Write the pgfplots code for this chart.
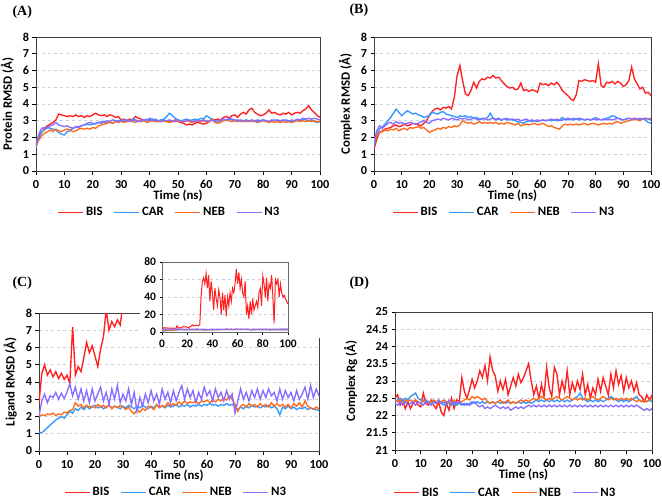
\documentclass[border=0pt]{standalone}
\usepackage{pgfplots}
\pgfplotsset{compat=1.18}
\usepackage{pgfplotstable}
\usepackage{fontspec}
\setmainfont{Carlito}
\newfontfamily\titlefont{Liberation Serif}
\definecolor{cBIS}{HTML}{FF2020}
\definecolor{cCAR}{HTML}{3399FF}
\definecolor{cNEB}{HTML}{FF6A1A}
\definecolor{cN3}{HTML}{8A6CFF}
\definecolor{gridc}{HTML}{C5D3DE}

\pgfplotstableread{
t BIS CAR NEB N3
0 1.50 1.40 1.55 1.60
1 2.05 1.95 1.85 2.20
2 2.30 2.35 2.10 2.55
3 2.55 2.45 2.25 2.60
4 2.70 2.60 2.35 2.55
5 2.80 2.55 2.45 2.70
6 2.90 2.50 2.35 2.75
7 3.05 2.45 2.50 2.90
8 3.40 2.30 2.40 2.75
9 3.35 2.20 2.35 2.70
10 3.30 2.15 2.45 2.65
11 3.25 2.35 2.50 2.70
12 3.30 2.40 2.45 2.60
13 3.25 2.55 2.35 2.55
14 3.35 2.60 2.40 2.65
15 3.25 2.65 2.50 2.60
16 3.30 2.70 2.55 2.70
17 3.20 2.75 2.50 2.75
18 3.30 2.80 2.55 2.85
19 3.25 2.75 2.50 2.90
20 3.35 2.80 2.60 2.85
21 3.45 2.85 2.55 2.80
22 3.35 2.90 2.70 2.90
23 3.30 2.85 2.75 2.95
24 3.35 2.95 2.80 2.90
25 3.25 2.90 2.85 3.00
26 3.35 2.95 2.90 2.95
27 3.30 2.85 2.85 3.05
28 3.20 2.95 2.95 3.00
29 3.25 3.00 2.90 2.95
30 3.05 3.05 2.95 3.00
31 3.10 2.95 2.90 3.05
32 3.00 3.05 2.95 3.00
33 3.10 3.00 3.00 2.95
34 3.05 3.10 2.95 3.05
35 3.25 3.05 2.90 3.00
36 3.15 3.00 3.00 2.95
37 3.10 2.95 2.95 3.05
38 3.05 3.05 3.00 3.00
39 3.00 3.00 2.90 3.10
40 3.05 3.15 2.95 3.05
41 3.10 3.05 3.00 3.00
42 3.00 3.10 2.95 3.05
43 2.95 3.00 3.00 3.00
44 3.05 3.05 2.95 2.95
45 3.00 3.10 3.00 3.05
46 2.95 3.25 2.95 3.00
47 3.00 3.45 2.90 3.05
48 2.95 3.30 2.95 3.00
49 3.05 3.15 3.00 2.95
50 2.95 3.05 2.95 3.05
51 2.90 3.00 3.00 3.00
52 2.85 3.05 2.95 2.95
53 2.75 3.10 3.00 3.00
54 2.80 3.00 2.95 3.05
55 2.75 3.05 2.90 2.95
56 2.85 3.10 2.95 3.00
57 2.90 3.05 3.00 2.95
58 2.85 3.15 2.95 3.00
59 2.80 3.10 3.00 3.05
60 2.85 3.30 2.95 3.00
61 2.95 3.20 3.00 2.95
62 3.10 3.05 3.05 3.05
63 3.05 3.00 2.90 3.00
64 3.10 2.95 2.85 2.95
65 3.05 3.00 2.90 3.05
66 3.20 3.05 3.00 3.10
67 3.25 3.00 3.05 3.05
68 3.15 3.10 3.00 3.15
69 3.30 3.05 2.95 3.10
70 3.35 3.00 3.00 3.05
71 3.20 3.05 2.95 3.00
72 3.40 2.95 3.00 3.05
73 3.50 3.00 2.95 3.00
74 3.40 3.05 3.00 2.95
75 3.65 3.00 2.95 3.00
76 3.75 2.95 3.00 3.05
77 3.50 3.00 2.95 3.00
78 3.40 3.05 2.90 2.95
79 3.30 3.00 2.95 3.00
80 3.35 3.05 3.00 3.05
81 3.45 3.00 2.95 3.00
82 3.65 2.95 2.90 2.95
83 3.45 3.00 2.95 3.05
84 3.50 3.05 2.90 3.00
85 3.40 3.00 2.95 3.05
86 3.35 2.95 2.90 3.00
87 3.45 3.00 2.95 3.05
88 3.40 3.05 2.90 3.00
89 3.50 3.00 2.95 2.95
90 3.35 2.95 2.90 3.05
91 3.45 3.00 2.95 3.00
92 3.50 3.05 3.00 3.10
93 3.45 3.00 2.95 3.05
94 3.60 3.10 3.00 3.15
95 3.70 3.05 2.95 3.10
96 3.90 3.00 3.00 3.15
97 3.65 3.05 2.95 3.10
98 3.50 2.95 3.00 3.15
99 3.30 2.90 2.95 3.10
100 3.20 2.95 2.95 3.05
}\tabA

\pgfplotstableread{
t BIS CAR NEB N3
0 1.30 1.50 1.75 1.80
1 1.90 2.20 2.10 2.40
2 2.30 2.50 2.30 2.70
3 2.40 2.65 2.35 2.55
4 2.50 2.80 2.45 2.70
5 2.55 3.00 2.40 2.85
6 2.60 3.20 2.50 2.90
7 2.70 3.45 2.45 2.80
8 2.75 3.70 2.55 2.95
9 2.65 3.50 2.40 2.85
10 2.70 3.30 2.50 2.90
11 2.80 3.45 2.55 2.80
12 2.70 3.60 2.45 2.85
13 2.75 3.50 2.60 2.90
14 2.85 3.40 2.55 2.85
15 2.80 3.45 2.60 2.80
16 2.75 3.35 2.65 2.85
17 2.70 3.30 2.55 2.95
18 2.85 3.20 2.60 3.00
19 3.00 3.25 2.45 2.90
20 3.35 3.30 2.30 2.85
21 3.55 3.50 2.40 3.00
22 3.70 3.45 2.45 3.05
23 3.75 3.40 2.55 3.10
24 3.65 3.50 2.50 3.05
25 3.80 3.55 2.60 3.15
26 3.75 3.40 2.55 3.10
27 3.85 3.35 2.65 3.05
28 3.70 3.30 2.60 3.15
29 4.40 3.25 2.70 3.10
30 5.70 3.20 2.65 3.05
31 6.30 3.30 2.75 3.15
32 5.40 3.25 3.00 3.10
33 4.60 3.30 2.90 3.15
34 4.50 3.20 2.85 3.05
35 4.80 3.25 2.90 3.10
36 5.30 3.15 2.80 3.15
37 4.95 3.20 2.85 3.10
38 5.35 3.10 2.95 3.05
39 5.50 3.15 2.85 3.10
40 5.45 3.10 2.90 3.15
41 5.60 3.20 2.85 3.05
42 5.55 3.45 2.90 3.10
43 5.70 3.15 2.85 3.15
44 5.55 3.10 2.90 3.05
45 5.60 3.15 2.80 3.10
46 5.40 3.05 2.85 3.05
47 5.20 3.10 2.80 3.10
48 5.05 3.05 2.90 3.15
49 4.95 3.10 2.85 3.05
50 5.00 3.05 2.80 3.10
51 4.85 3.00 2.75 3.05
52 4.90 2.95 2.85 3.10
53 5.25 2.90 2.70 3.00
54 4.80 2.85 2.75 3.05
55 4.85 2.95 2.80 3.10
56 4.75 3.00 2.75 3.00
57 4.85 2.95 2.80 3.05
58 4.80 3.00 2.85 3.00
59 4.70 2.95 2.75 3.05
60 5.25 3.00 2.80 3.00
61 5.15 3.05 2.85 3.05
62 5.20 3.00 2.75 3.00
63 5.10 3.05 2.65 3.05
64 5.25 3.00 2.70 3.10
65 5.15 3.05 2.60 3.05
66 5.30 3.00 2.55 3.10
67 5.10 3.05 2.50 3.00
68 4.80 3.20 2.70 3.05
69 4.65 3.05 2.80 3.10
70 4.50 3.10 2.75 3.15
71 4.30 3.05 2.80 3.10
72 4.20 3.15 2.75 3.05
73 4.55 3.10 2.80 3.10
74 5.40 3.05 2.75 3.15
75 5.35 3.10 2.80 3.10
76 5.45 3.05 2.85 3.05
77 5.40 3.10 2.75 3.10
78 5.35 3.05 2.80 3.05
79 5.40 3.10 2.85 3.10
80 5.30 3.20 2.80 3.05
81 6.40 3.10 2.75 3.10
82 5.10 3.05 2.80 3.05
83 5.00 3.10 2.85 3.10
84 5.30 3.15 2.80 3.05
85 5.25 3.20 2.85 3.10
86 5.35 3.30 2.80 3.05
87 5.20 3.25 2.90 3.10
88 5.35 3.15 2.95 3.15
89 5.25 3.10 2.85 3.10
90 5.05 3.05 2.90 3.05
91 5.15 3.10 2.95 3.10
92 5.40 3.15 3.00 3.15
93 6.20 3.10 3.05 3.10
94 5.50 3.15 3.10 3.15
95 5.20 3.10 3.05 3.10
96 4.90 3.05 3.00 3.15
97 5.00 3.10 3.10 3.10
98 4.65 3.05 3.15 3.15
99 4.70 2.90 3.10 3.10
100 4.50 2.85 3.15 3.05
}\tabB

\pgfplotstableread{
t BIS CAR NEB N3
0 2.80 1.10 2.00 2.00
1 4.50 1.05 2.10 2.90
2 5.00 1.20 2.05 3.30
3 4.40 1.35 2.15 2.80
4 4.70 1.50 2.10 3.20
5 4.30 1.65 2.20 3.10
6 4.60 1.80 2.05 3.40
7 4.20 1.90 2.15 3.00
8 4.50 2.00 2.10 3.35
9 4.15 1.90 2.25 3.05
10 4.40 2.10 2.20 3.40
11 3.90 2.30 2.35 3.90
12 7.20 2.20 2.40 3.20
13 4.40 2.45 2.80 3.70
14 4.90 2.35 2.60 3.00
15 4.60 2.55 2.70 3.60
16 5.40 2.40 2.50 2.90
17 6.30 2.60 2.65 3.50
18 5.70 2.45 2.55 2.80
19 6.10 2.55 2.60 3.60
20 5.50 2.65 2.50 2.90
21 4.90 2.50 2.70 3.30
22 5.90 2.60 2.55 3.70
23 6.60 2.45 2.65 2.90
24 8.20 2.55 2.50 3.40
25 7.00 2.65 2.70 2.70
26 7.50 2.50 2.45 3.60
27 7.20 2.60 2.60 3.00
28 7.60 2.55 2.50 3.80
29 7.30 2.45 2.65 2.80
30 8.50 2.60 2.55 3.30
31 40.0 2.50 2.40 2.90
32 58.0 2.65 2.55 3.60
33 62.0 2.55 2.30 2.70
34 55.0 2.45 2.15 3.40
35 67.0 2.60 2.40 2.30
36 50.0 2.50 2.25 3.10
37 65.0 2.65 2.45 2.60
38 35.0 2.55 2.35 3.30
39 58.0 2.45 2.60 2.80
40 45.0 2.60 2.55 3.50
41 25.0 2.50 2.40 2.90
42 50.0 2.65 2.70 3.30
43 38.0 2.55 2.50 2.70
44 30.0 2.60 2.65 3.60
45 48.0 2.50 2.55 3.00
46 40.0 2.65 2.80 3.40
47 20.0 2.55 2.60 2.80
48 45.0 2.60 2.75 3.50
49 25.0 2.70 2.65 2.90
50 42.0 2.55 2.85 3.40
51 18.0 2.65 2.70 3.80
52 40.0 2.60 2.90 3.00
53 30.0 2.70 2.75 3.60
54 45.0 2.55 2.85 3.10
55 35.0 2.65 2.80 3.50
56 50.0 2.60 2.90 2.80
57 45.0 2.70 2.75 3.40
58 55.0 2.60 2.90 3.00
59 72.0 2.70 2.85 3.70
60 55.0 2.65 2.95 3.20
61 68.0 2.75 2.80 3.50
62 50.0 2.65 2.95 2.90
63 60.0 2.70 2.85 3.60
64 45.0 2.60 3.00 3.10
65 40.0 2.70 2.90 3.40
66 58.0 2.65 3.05 2.90
67 20.0 2.75 2.95 3.50
68 30.0 2.65 3.20 3.00
69 15.0 2.70 3.00 3.30
70 35.0 2.60 2.70 2.20
71 20.0 2.40 2.30 2.90
72 38.0 2.55 2.60 3.60
73 25.0 2.45 2.70 3.00
74 30.0 2.60 2.55 3.40
75 35.0 2.50 2.75 2.90
76 28.0 2.65 2.60 3.50
77 45.0 2.55 2.70 3.10
78 50.0 2.60 2.55 3.60
79 30.0 2.50 2.75 3.00
80 64.0 2.60 2.60 3.50
81 55.0 2.55 2.70 3.10
82 40.0 2.65 2.55 3.60
83 62.0 2.50 2.80 3.20
84 35.0 2.60 2.60 3.40
85 55.0 2.45 2.75 2.90
86 50.0 2.10 2.60 3.60
87 65.0 2.55 2.70 3.00
88 40.0 2.45 2.55 3.50
89 10.0 2.60 2.70 3.10
90 60.0 2.45 2.50 3.40
91 55.0 2.55 2.75 2.90
92 60.0 2.40 2.60 3.50
93 40.0 2.50 2.80 3.00
94 55.0 2.45 2.55 3.30
95 45.0 2.55 2.90 3.70
96 40.0 2.40 2.60 3.00
97 42.0 2.50 2.50 3.80
98 38.0 2.45 2.40 3.10
99 35.0 2.40 2.55 3.60
100 32.0 2.35 2.45 3.20
}\tabC

\pgfplotstableread{
t BIS CAR NEB N3
0 22.50 22.40 22.45 22.35
1 22.60 22.45 22.40 22.30
2 22.30 22.50 22.45 22.40
3 22.45 22.40 22.35 22.30
4 22.20 22.50 22.45 22.40
5 22.40 22.45 22.40 22.30
6 22.20 22.55 22.45 22.35
7 22.35 22.60 22.40 22.40
8 22.45 22.65 22.45 22.30
9 22.30 22.50 22.40 22.40
10 22.25 22.45 22.35 22.35
11 22.65 22.40 22.45 22.30
12 22.35 22.45 22.40 22.40
13 22.30 22.40 22.35 22.35
14 22.45 22.35 22.40 22.30
15 22.30 22.40 22.45 22.40
16 22.20 22.35 22.40 22.35
17 22.40 22.45 22.35 22.45
18 22.10 22.35 22.40 22.35
19 22.00 22.30 22.45 22.40
20 22.35 22.40 22.40 22.30
21 22.15 22.35 22.35 22.45
22 22.50 22.30 22.40 22.35
23 22.20 22.35 22.45 22.40
24 22.45 22.30 22.35 22.35
25 22.40 22.35 22.40 22.40
26 23.10 22.30 22.40 22.35
27 22.70 22.35 22.45 22.30
28 22.50 22.30 22.50 22.35
29 22.75 22.35 22.45 22.30
30 23.05 22.40 22.55 22.35
31 22.80 22.35 22.50 22.40
32 23.00 22.40 22.55 22.30
33 23.30 22.35 22.50 22.25
34 23.10 22.40 22.45 22.30
35 23.45 22.35 22.50 22.20
36 23.00 22.40 22.40 22.25
37 23.70 22.35 22.35 22.20
38 23.30 22.40 22.40 22.25
39 23.15 22.35 22.35 22.30
40 22.70 22.40 22.40 22.25
41 23.00 22.35 22.45 22.20
42 22.75 22.40 22.35 22.25
43 23.05 22.35 22.40 22.20
44 22.60 22.40 22.45 22.25
45 22.85 22.35 22.35 22.15
46 23.10 22.40 22.40 22.20
47 22.85 22.35 22.35 22.25
48 23.20 22.40 22.40 22.20
49 22.95 22.35 22.45 22.25
50 23.10 22.40 22.40 22.20
51 23.30 22.35 22.45 22.25
52 23.50 22.40 22.40 22.30
53 23.00 22.35 22.45 22.25
54 22.60 22.40 22.50 22.30
55 22.85 22.45 22.45 22.25
56 22.50 22.40 22.50 22.30
57 22.90 22.45 22.55 22.25
58 22.55 22.40 22.50 22.30
59 23.40 22.45 22.45 22.25
60 22.80 22.40 22.50 22.30
61 22.55 22.45 22.45 22.25
62 23.40 22.40 22.50 22.30
63 23.20 22.45 22.55 22.25
64 22.60 22.40 22.50 22.30
65 23.00 22.45 22.45 22.25
66 22.70 22.40 22.50 22.30
67 23.30 22.45 22.55 22.25
68 22.60 22.40 22.50 22.30
69 22.95 22.45 22.45 22.25
70 22.70 22.50 22.50 22.30
71 23.00 22.55 22.45 22.25
72 22.75 22.65 22.50 22.30
73 23.20 22.50 22.45 22.25
74 22.60 22.45 22.50 22.30
75 22.90 22.40 22.45 22.25
76 22.50 22.45 22.50 22.30
77 22.80 22.40 22.55 22.25
78 22.60 22.45 22.50 22.30
79 23.05 22.40 22.45 22.25
80 22.70 22.45 22.50 22.30
81 23.10 22.40 22.55 22.25
82 22.85 22.45 22.50 22.30
83 22.60 22.50 22.45 22.25
84 23.20 22.55 22.50 22.30
85 22.80 22.50 22.45 22.25
86 23.30 22.45 22.50 22.30
87 22.90 22.40 22.45 22.25
88 23.15 22.45 22.50 22.30
89 22.70 22.40 22.45 22.25
90 23.10 22.45 22.50 22.30
91 22.80 22.40 22.45 22.25
92 23.00 22.45 22.50 22.30
93 22.70 22.50 22.45 22.25
94 22.95 22.55 22.40 22.30
95 22.60 22.45 22.45 22.25
96 22.55 22.40 22.40 22.20
97 22.40 22.45 22.45 22.15
98 22.60 22.40 22.40 22.20
99 22.45 22.45 22.45 22.15
100 22.60 22.40 22.50 22.20
}\tabD

\newcommand\lfont{\bfseries\fontsize{12.8}{14}\selectfont}
\pgfplotsset{
  panel/.style={
    scale only axis, anchor=south west,
    xmin=0, xmax=100, xtick={0,10,...,100},
    xtick pos=lower, ytick pos=left,
    tick align=outside, major tick length=3.5pt,
    axis line style={black!75, line width=0.7pt},
    every tick/.style={black, line width=0.7pt},
    ymajorgrids, grid style={dashed, gridc, line width=0.8pt},
    /pgf/number format/assume math mode=true,
    tick label style={font=\bfseries\fontsize{12.2}{13}\selectfont},
    xticklabel style={yshift=-2pt},
    label style={font=\lfont},
    xlabel={Time (ns)},
    xlabel style={yshift=5pt},
    ylabel style={yshift=2pt},
    legend columns=4,
    legend cell align=left,
    legend style={draw=none, fill=none, font=\lfont,
      anchor=center, /tikz/every even column/.append style={column sep=9pt},
      inner sep=0pt},
    legend image code/.code={\draw[#1, line width=1.4pt] (0pt,0pt) -- (25pt,0pt);},
    every axis plot/.append style={line width=1.35pt},
  },
}

\begin{document}
\begin{tikzpicture}
\useasboundingbox (0pt,0pt) rectangle (662pt,-500pt);

% (A)
\begin{axis}[panel, at={(36pt,-171pt)}, width=284pt, height=134pt,
  ymin=0, ymax=8, ytick={0,1,...,8}, ylabel={Protein RMSD (Å)},
  legend style={at={(0.47,-0.31)}, font=\lfont}]
\addplot[cBIS] table[x=t,y=BIS]{\tabA}; \addlegendentry{BIS}
\addplot[cCAR] table[x=t,y=CAR]{\tabA}; \addlegendentry{CAR}
\addplot[cNEB] table[x=t,y=NEB]{\tabA}; \addlegendentry{NEB}
\addplot[cN3] table[x=t,y=N3]{\tabA}; \addlegendentry{N3}
\end{axis}

% (B)
\begin{axis}[panel, at={(374pt,-171pt)}, width=277pt, height=134pt,
  ymin=0, ymax=8, ytick={0,1,...,8}, ylabel={Complex RMSD (Å)},
  legend style={at={(0.47,-0.31)}, font=\lfont}]
\addplot[cBIS] table[x=t,y=BIS]{\tabB}; \addlegendentry{BIS}
\addplot[cCAR] table[x=t,y=CAR]{\tabB}; \addlegendentry{CAR}
\addplot[cNEB] table[x=t,y=NEB]{\tabB}; \addlegendentry{NEB}
\addplot[cN3] table[x=t,y=N3]{\tabB}; \addlegendentry{N3}
\end{axis}

% (C)
\begin{axis}[panel, at={(39pt,-451pt)}, width=280pt, height=138pt,
  ymin=0, ymax=8, ytick={0,1,...,8}, ylabel={Ligand RMSD (Å)},
  legend style={at={(0.49,-0.30)}, font=\lfont}]
\addplot[cBIS] table[x=t,y=BIS]{\tabC}; \addlegendentry{BIS}
\addplot[cCAR] table[x=t,y=CAR]{\tabC}; \addlegendentry{CAR}
\addplot[cNEB] table[x=t,y=NEB]{\tabC}; \addlegendentry{NEB}
\addplot[cN3] table[x=t,y=N3]{\tabC}; \addlegendentry{N3}
\end{axis}
\fill[white] (140pt,-254pt) rectangle (325pt,-338pt);
\begin{axis}[panel, at={(162pt,-332pt)}, width=126pt, height=70pt,
  xtick={0,20,...,100}, ymin=0, ymax=80, ytick={0,20,...,80},
  xlabel={}, axis line style={black!60, line width=0.6pt},
  major tick length=2.5pt,
  xticklabel style={yshift=0pt},
  tick label style={font=\bfseries\fontsize{11.5}{12}\selectfont},
  every axis plot/.append style={line width=1pt}]
\addplot[cBIS] table[x=t,y=BIS]{\tabC};
\addplot[cCAR] table[x=t,y=CAR]{\tabC};
\addplot[cNEB] table[x=t,y=NEB]{\tabC};
\addplot[cN3] table[x=t,y=N3]{\tabC};
\end{axis}

% (D)
\begin{axis}[panel, at={(395pt,-450pt)}, width=257pt, height=138pt,
  ymin=21, ymax=25, ytick={21,21.5,...,25}, ylabel={Complex Rg (Å)},
  yticklabel style={/pgf/number format/fixed},
  legend style={at={(0.43,-0.31)}, font=\lfont}]
\addplot[cBIS] table[x=t,y=BIS]{\tabD}; \addlegendentry{BIS}
\addplot[cCAR] table[x=t,y=CAR]{\tabD}; \addlegendentry{CAR}
\addplot[cNEB] table[x=t,y=NEB]{\tabD}; \addlegendentry{NEB}
\addplot[cN3] table[x=t,y=N3]{\tabD}; \addlegendentry{N3}
\end{axis}

\node[anchor=west, font=\titlefont\bfseries\fontsize{14}{16}\selectfont] at (9pt,-12pt) {(A)};
\node[anchor=west, font=\titlefont\bfseries\fontsize{14}{16}\selectfont] at (346pt,-10pt) {(B)};
\node[anchor=west, font=\titlefont\bfseries\fontsize{14}{16}\selectfont] at (9pt,-283pt) {(C)};
\node[anchor=west, font=\titlefont\bfseries\fontsize{14}{16}\selectfont] at (346pt,-283pt) {(D)};
\end{tikzpicture}
\end{document}
